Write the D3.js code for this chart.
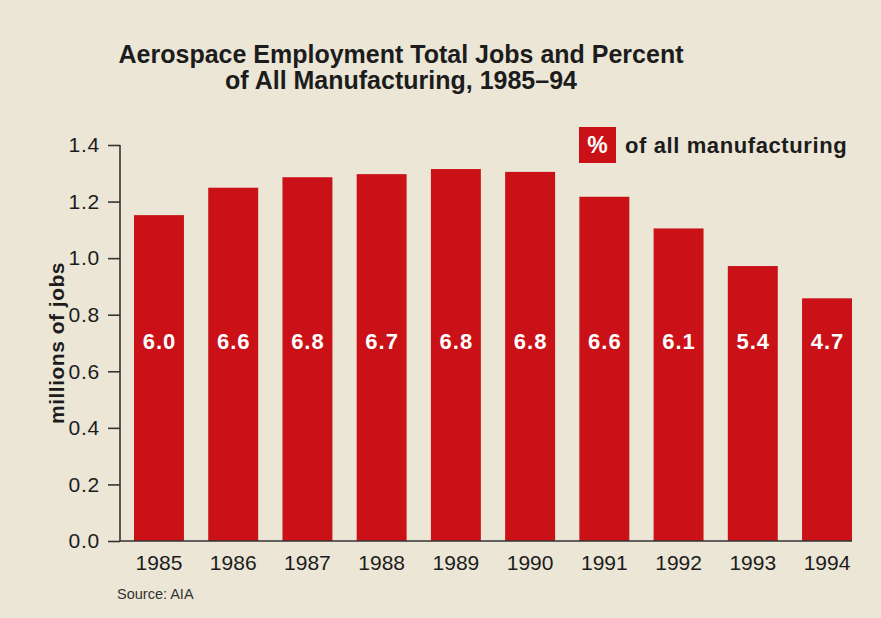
<!DOCTYPE html>
<html>
<head>
<meta charset="utf-8">
<script src="https://cdn.jsdelivr.net/npm/d3@7"></script>
<style>
  html, body { margin: 0; padding: 0; background: #ebe6d6; }
  svg { display: block; }
  text { font-family: "Liberation Sans", Arial, Helvetica, sans-serif; }
</style>
</head>
<body>
<svg id="chart" width="881" height="618"></svg>
<script>
// Aerospace employment, millions of jobs, and share of all manufacturing jobs
const years = ["1985", "1986", "1987", "1988", "1989", "1990", "1991", "1992", "1993", "1994"];
const jobs = [1.152, 1.249, 1.286, 1.297, 1.315, 1.305, 1.217, 1.105, 0.972, 0.858];
const pctOfManufacturing = ["6.0", "6.6", "6.8", "6.7", "6.8", "6.8", "6.6", "6.1", "5.4", "4.7"];
const yTicks = [0.0, 0.2, 0.4, 0.6, 0.8, 1.0, 1.2, 1.4];

const RED = "#ca1117";
const INK = "#1c1c1c";
const FONT = "\"Liberation Sans\", Arial, sans-serif";

const svg = d3.select("#chart");

svg.append("rect").attr("width", 881).attr("height", 618).attr("fill", "#ebe6d6");

const x = d3.scaleBand().domain(years).range([134, 852]).paddingInner(0.327).paddingOuter(0);
const y = d3.scaleLinear().domain([0, 1.4]).range([541, 145]);

// Title
const title = svg.append("text")
  .attr("text-anchor", "middle")
  .attr("font-weight", "bold")
  .attr("font-size", 25)
  .attr("fill", INK);
title.append("tspan").attr("x", 401).attr("y", 63).text("Aerospace Employment Total Jobs and Percent");
title.append("tspan").attr("x", 401).attr("y", 89).text("of All Manufacturing, 1985–94");

// Bars
svg.append("g").selectAll("rect")
  .data(jobs)
  .join("rect")
  .attr("x", (d, i) => x(years[i]))
  .attr("width", x.bandwidth())
  .attr("y", d => y(d))
  .attr("height", d => y(0) - y(d))
  .attr("fill", RED);

// Percent labels inside bars
svg.append("g").selectAll("text")
  .data(pctOfManufacturing)
  .join("text")
  .attr("x", (d, i) => x(years[i]) + x.bandwidth() / 2 + 0.5)
  .attr("y", 349)
  .attr("text-anchor", "middle")
  .attr("font-weight", "bold")
  .attr("font-size", 22)
  .attr("letter-spacing", 1)
  .attr("fill", "#ffffff")
  .text(d => d);

// Y axis
const yAxis = d3.axisLeft(y)
  .tickValues(yTicks)
  .tickFormat(d3.format(".1f"))
  .tickSize(12)
  .tickPadding(8);
const gy = svg.append("g").attr("transform", "translate(120,0)").call(yAxis);
gy.select(".domain").attr("stroke", "#333").attr("stroke-width", 1.6).attr("d", `M0,${y(1.4)}V${y(0)}`);
gy.selectAll(".tick line").attr("stroke", "#333").attr("stroke-width", 1.6);
gy.selectAll(".tick text")
  .attr("font-size", 21)
  .attr("letter-spacing", 0.8)
  .attr("fill", INK)
  .attr("font-family", FONT);

// X axis (baseline, labels only)
const xAxis = d3.axisBottom(x).tickSize(0).tickPadding(14);
const gx = svg.append("g").attr("transform", `translate(0,${y(0)})`).call(xAxis);
gx.select(".domain").attr("stroke", "#333").attr("stroke-width", 1.6).attr("d", `M120,0H852`);
gx.selectAll(".tick text")
  .attr("font-size", 21)
  .attr("fill", INK)
  .attr("font-family", FONT);

// Y axis title
svg.append("text")
  .attr("transform", "translate(64,343) rotate(-90)")
  .attr("text-anchor", "middle")
  .attr("font-weight", "bold")
  .attr("font-size", 21)
  .attr("letter-spacing", 0.5)
  .attr("fill", INK)
  .text("millions of jobs");

// Legend
const legend = svg.append("g");
legend.append("rect")
  .attr("x", 579).attr("y", 127).attr("width", 37).attr("height", 36)
  .attr("fill", RED);
legend.append("text")
  .attr("x", 597.5).attr("y", 153)
  .attr("text-anchor", "middle")
  .attr("font-weight", "bold")
  .attr("font-size", 23)
  .attr("fill", "#ffffff")
  .text("%");
legend.append("text")
  .attr("x", 625).attr("y", 153)
  .attr("font-weight", "bold")
  .attr("font-size", 22)
  .attr("letter-spacing", 0.6)
  .attr("fill", INK)
  .text("of all manufacturing");

// Source note
svg.append("text")
  .attr("x", 117).attr("y", 599)
  .attr("font-size", 14.5)
  .attr("fill", "#333")
  .text("Source: AIA");
</script>
</body>
</html>
